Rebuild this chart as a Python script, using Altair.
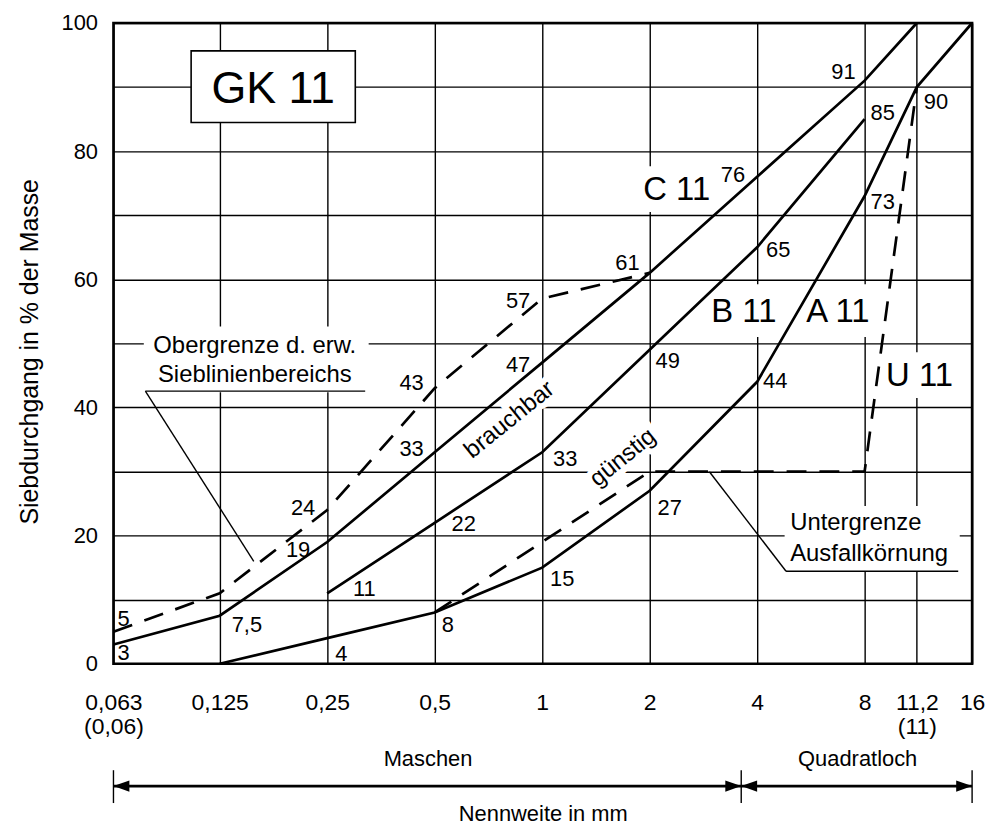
import altair as alt
import pandas as pd

FONT = "Liberation Sans"

# ---------------- data ----------------
sieve_sizes = [0.063, 0.125, 0.25, 0.5, 1, 2, 4, 8, 11.2, 16]
sieve_labels = ["0,063", "0,125", "0,25", "0,5", "1", "2", "4", "8", "11,2", "16"]
sieve_sublabels = ["(0,06)", "", "", "", "", "", "", "", "(11)", ""]
y_ticks = [0, 10, 20, 30, 40, 50, 60, 70, 80, 90, 100]

A11_sizes = [0.125, 0.25, 0.5, 1, 2, 4, 8, 11.2, 16]
A11_values = [0, 4, 8, 15, 27, 44, 73, 90, 100]
A11_labels = ["", "4", "8", "15", "27", "44", "73", "90", ""]

B11_sizes = [0.25, 0.5, 1, 2, 4, 8]
B11_values = [11, 22, 33, 49, 65, 85]
B11_labels = ["11", "22", "33", "49", "65", "85"]

C11_sizes = [0.063, 0.125, 0.25, 0.5, 1, 2, 4, 8, 11.2]
C11_values = [3, 7.5, 19, 33, 47, 61, 76, 91, 100]
C11_labels = ["3", "7,5", "19", "33", "47", "61", "76", "91", ""]

U11_sizes = [0.5, 2, 8, 11.2]
U11_values = [8, 30, 30, 90]

O_sizes = [0.063, 0.125, 0.25, 0.5, 1, 2]
O_values = [5, 11, 24, 43, 57, 61]
O_labels = ["5", "", "24", "43", "57", ""]

# label placement (align, dx, dy) relative to its point
placement = {
    ("C11", "3"): ("left", 4, 9),
    ("O", "5"): ("left", 4, -13),
    ("C11", "7,5"): ("left", 12, 9),
    ("A11", "4"): ("left", 8, 16),
    ("B11", "11"): ("left", 26, -4),
    ("C11", "19"): ("right", -17, 8),
    ("O", "24"): ("right", -12, -2),
    ("A11", "8"): ("left", 7, 13),
    ("B11", "22"): ("left", 17, 1),
    ("C11", "33"): ("right", -11, -3),
    ("O", "43"): ("right", -11, -5),
    ("A11", "15"): ("left", 8, 11),
    ("B11", "33"): ("left", 11, 7),
    ("C11", "47"): ("right", -12, 2),
    ("O", "57"): ("right", -12, 3),
    ("A11", "27"): ("left", 8, 17),
    ("B11", "49"): ("left", 6, 11),
    ("C11", "61"): ("right", -10, -10),
    ("A11", "44"): ("left", 6, -1),
    ("B11", "65"): ("left", 9, 3),
    ("C11", "76"): ("right", -12, -2),
    ("A11", "73"): ("left", 6, 6),
    ("B11", "85"): ("left", 6, -6),
    ("C11", "91"): ("right", -9, -9),
    ("A11", "90"): ("left", 7, 15),
}


def curve_df(name, sizes, values, labels=None):
    d = pd.DataFrame({"curve": name, "size": sizes, "value": values})
    d["label"] = labels if labels is not None else [""] * len(sizes)
    return d


solid_df = pd.concat([
    curve_df("A11", A11_sizes, A11_values, A11_labels),
    curve_df("B11", B11_sizes, B11_values, B11_labels),
    curve_df("C11", C11_sizes, C11_values, C11_labels),
], ignore_index=True)
dashed_df = pd.concat([
    curve_df("O", O_sizes, O_values, O_labels),
    curve_df("U11", U11_sizes, U11_values),
], ignore_index=True)
all_df = pd.concat([solid_df, dashed_df], ignore_index=True)

# ---------------- scales / axes ----------------
W, H = 863, 644

label_expr = ""
for v, l, s in zip(sieve_sizes, sieve_labels, sieve_sublabels):
    lab = f"['{l}', '{s}']" if s else f"'{l}'"
    label_expr += f"datum.value == {v} ? {lab} : "
label_expr += "''"

xscale = alt.Scale(type="log", base=2, domain=[sieve_sizes[0], sieve_sizes[-1]], nice=False, zero=False)
yscale = alt.Scale(domain=[0, 100], nice=False, zero=False)

xaxis = alt.Axis(values=sieve_sizes, labelExpr=label_expr, grid=True, gridColor="black",
                 gridWidth=1.4, gridOpacity=1, domain=False, ticks=False, labelPadding=28,
                 labelFont=FONT, labelFontSize=23, labelColor="black", labelOverlap=False,
                 labelBound=False, labelFlush=False, labelLineHeight=24,
                 title="Nennweite in mm", titleFont=FONT, titleFontSize=22,
                 titleFontWeight="normal", titleColor="black", titleY=151,
                 titleBaseline="middle", titleX=W / 2)
yaxis = alt.Axis(values=y_ticks, labelExpr="datum.value % 20 == 0 ? datum.label : ''",
                 grid=True, gridColor="black", gridWidth=1.4, gridOpacity=1, domain=False,
                 ticks=False, labelPadding=16, labelFont=FONT, labelFontSize=22,
                 labelColor="black", labelOverlap=False, labelBound=False, labelFlush=False,
                 title="Siebdurchgang in % der Masse", titleFont=FONT, titleFontSize=25,
                 titleFontWeight="normal", titleColor="black", titleX=-84, titleY=H / 2 + 8,
                 titleAngle=270, titleAlign="center", titleBaseline="middle")


def X(field="size"):
    return alt.X(f"{field}:Q", scale=xscale, axis=xaxis)


def Y(field="value"):
    return alt.Y(f"{field}:Q", scale=yscale, axis=yaxis)


def box_shape(w, h):
    r = h / w
    return f"M-1,{-r} L1,{-r} L1,{r} L-1,{r} Z"


layers = []

# ---------------- white background boxes (hide grid) ----------------
white_boxes = [
    # (x, y, w, h)
    (0.1582, 47.5, 226, 66),   # Obergrenze
    (8.40, 19.5, 176, 66),     # Untergrenze
    (2.381, 74.07, 84, 46),    # C 11
    (3.672, 55.12, 81, 53),    # B 11
    (6.734, 55.12, 82, 53),    # A 11
    (11.40, 45.03, 80, 46),    # U 11
]
for bx, by, bw, bh in white_boxes:
    layers.append(
        alt.Chart(pd.DataFrame({"x": [bx], "y": [by]}))
        .mark_point(shape=box_shape(bw, bh), size=bw * bw, filled=True, fill="white",
                    strokeWidth=0, opacity=1)
        .encode(x=X("x"), y=Y("y"))
    )

# halos behind rotated words
rot_words = pd.DataFrame({"x": [0.810, 1.683], "y": [38.04, 32.14],
                          "t": ["brauchbar", "günstig"]})
layers.append(
    alt.Chart(rot_words).mark_text(font=FONT, fontSize=24, angle=321, stroke="white",
                                   strokeWidth=12, fill="white", baseline="middle",
                                   align="center")
    .encode(x=X("x"), y=Y("y"), text="t:N")
)

# ---------------- curves ----------------
layers.append(
    alt.Chart(solid_df).mark_line(color="black", strokeWidth=2.7, interpolate="linear")
    .encode(x=X(), y=Y(), detail="curve:N")
)
layers.append(
    alt.Chart(dashed_df).mark_line(color="black", strokeWidth=2.7, strokeDash=[20, 13])
    .encode(x=X(), y=Y(), detail="curve:N")
)

# ---------------- leader lines & underlines ----------------
leaders = pd.DataFrame({
    "x": [0.0774, 0.0774, 4.82, 4.82],
    "y": [42.55, 42.55, 14.44, 14.44],
    "x2": [0.3194, 0.1557, 14.63, 2.94],
    "y2": [42.55, 15.99, 14.44, 29.97],
})
layers.append(
    alt.Chart(leaders).mark_rule(color="black", strokeWidth=1.4)
    .encode(x=X("x"), y=Y("y"), x2="x2:Q", y2="y2:Q")
)

# ---------------- GK 11 box ----------------
gk = pd.DataFrame({"x": [0.1765], "y": [90.06], "t": ["GK 11"]})
layers.append(
    alt.Chart(gk).mark_point(shape=box_shape(165, 72), size=165 * 165, filled=True,
                             fill="white", stroke="black", strokeWidth=1.6, opacity=1)
    .encode(x=X("x"), y=Y("y"))
)
layers.append(
    alt.Chart(gk).mark_text(font=FONT, fontSize=45, color="black", baseline="middle",
                            align="center", dy=2)
    .encode(x=X("x"), y=Y("y"), text="t:N")
)

# ---------------- number labels ----------------
lab_df = all_df[all_df["label"] != ""]
for _, row in lab_df.iterrows():
    align, dx, dy = placement[(row["curve"], row["label"])]
    layers.append(
        alt.Chart(pd.DataFrame([row])).mark_text(font=FONT, fontSize=22, color="black",
                                                 align=align, baseline="middle", dx=dx, dy=dy)
        .encode(x=X(), y=Y(), text="label:N")
    )

# ---------------- curve names ----------------
names = pd.DataFrame({"x": [2.381, 3.672, 6.734, 11.40], "y": [74.07, 55.12, 55.12, 45.03],
                      "t": ["C 11", "B 11", "A 11", "U 11"]})
layers.append(
    alt.Chart(names).mark_text(font=FONT, fontSize=33, color="black", baseline="middle",
                               align="center", dy=1)
    .encode(x=X("x"), y=Y("y"), text="t:N")
)

# rotated words
layers.append(
    alt.Chart(rot_words).mark_text(font=FONT, fontSize=24, angle=321, color="black",
                                   baseline="middle", align="center")
    .encode(x=X("x"), y=Y("y"), text="t:N")
)

# annotation texts
ann_c = pd.DataFrame({"x": [0.1567, 0.1567], "y": [49.53, 45.03],
                      "t": ["Obergrenze d. erw.", "Sieblinienbereichs"]})
layers.append(
    alt.Chart(ann_c).mark_text(font=FONT, fontSize=24, color="black", baseline="middle",
                               align="center")
    .encode(x=X("x"), y=Y("y"), text="t:N")
)
ann_l = pd.DataFrame({"x": [4.95, 4.95], "y": [21.89, 17.08],
                      "t": ["Untergrenze", "Ausfallkörnung"]})
layers.append(
    alt.Chart(ann_l).mark_text(font=FONT, fontSize=24, color="black", baseline="middle",
                               align="left")
    .encode(x=X("x"), y=Y("y"), text="t:N")
)

# ---------------- bottom: Maschen / Quadratloch ----------------
split = 3.61
zones = pd.DataFrame({"x": [0.479, 7.65], "t": ["Maschen", "Quadratloch"]})
layers.append(
    alt.Chart(zones).mark_text(font=FONT, fontSize=22, color="black", baseline="middle",
                               align="center")
    .encode(x=X("x"), y=alt.value(740), text="t:N")
)
arrow_line = pd.DataFrame({"x": [sieve_sizes[0]], "x2": [sieve_sizes[-1]]})
layers.append(
    alt.Chart(arrow_line).mark_rule(color="black", strokeWidth=2.6)
    .encode(x=X("x"), x2="x2:Q", y=alt.value(767))
)
ticks_df = pd.DataFrame({"x": [sieve_sizes[0], split, sieve_sizes[-1]]})
layers.append(
    alt.Chart(ticks_df).mark_rule(color="black", strokeWidth=1.4)
    .encode(x=X("x"), y=alt.value(751), y2=alt.value(784))
)
left_heads = pd.DataFrame({"x": [sieve_sizes[0], split]})
right_heads = pd.DataFrame({"x": [split, sieve_sizes[-1]]})
layers.append(
    alt.Chart(left_heads).mark_point(shape="M0,0 L1,-0.36 L1,0.36 Z", size=1024, filled=True,
                                     fill="black", strokeWidth=0, opacity=1)
    .encode(x=X("x"), y=alt.value(767))
)
layers.append(
    alt.Chart(right_heads).mark_point(shape="M0,0 L-1,-0.36 L-1,0.36 Z", size=1024,
                                      filled=True, fill="black", strokeWidth=0, opacity=1)
    .encode(x=X("x"), y=alt.value(767))
)

chart = (
    alt.layer(*layers)
    .properties(width=W, height=H, autosize=alt.AutoSizeParams(type="none"),
                padding={"left": 106, "top": 13, "right": 20, "bottom": 160},
                background="white")
    .configure_view(stroke="black", strokeWidth=2.6)
)

chart.save("out.html", embed_options={"renderer": "svg", "actions": False})
